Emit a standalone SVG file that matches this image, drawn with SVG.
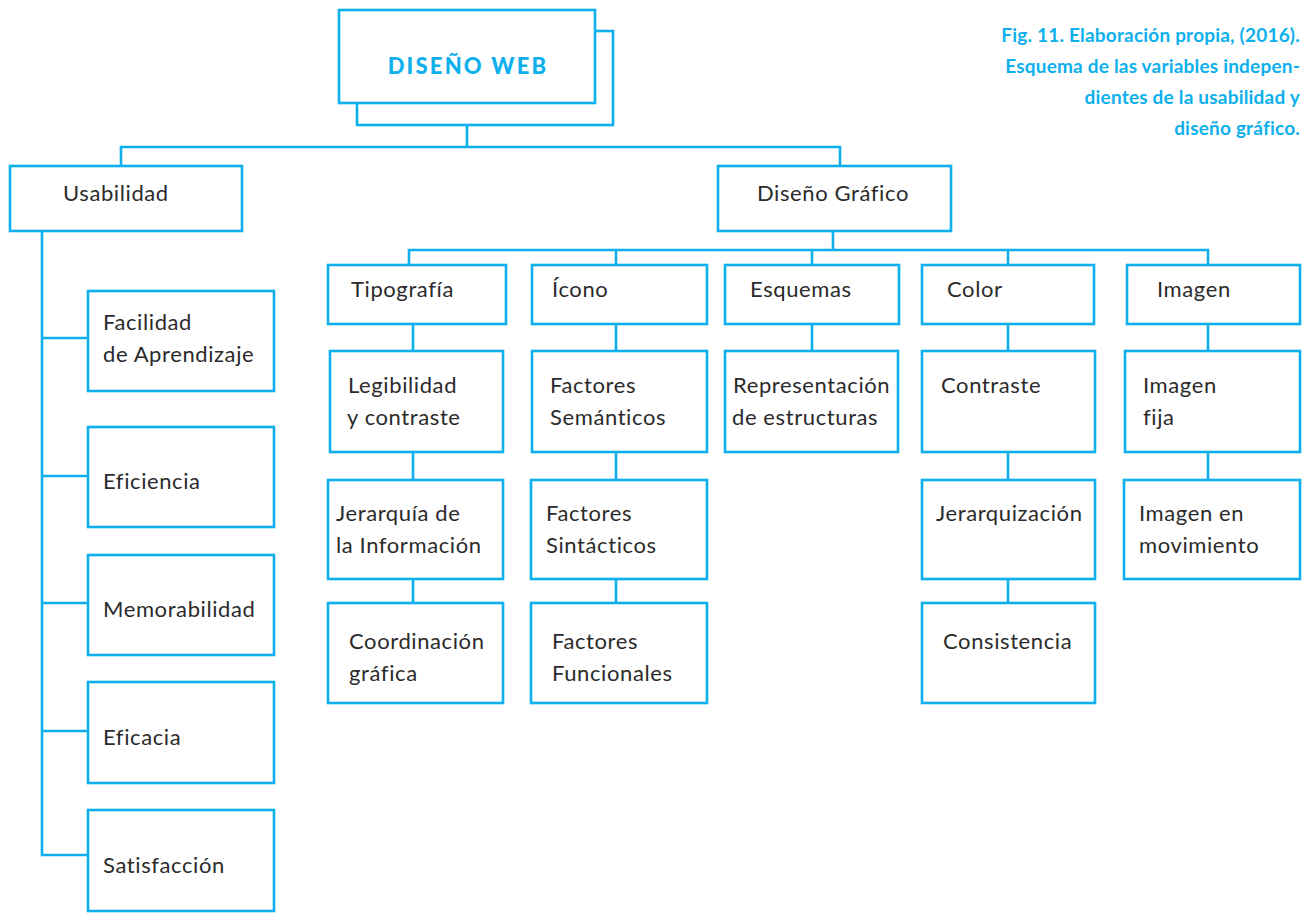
<svg xmlns="http://www.w3.org/2000/svg" width="1303" height="914" viewBox="0 0 1303 914">
  <style>
    .box { fill: #ffffff; stroke: #0db0ec; stroke-width: 2.6; }
    .link { fill: none; stroke: #0db0ec; stroke-width: 2.6; stroke-linecap: square; }
    .lbl { font-family: Lato, "Open Sans", "Liberation Sans", sans-serif; font-size: 22px; letter-spacing: 0.6px; fill: #2b2b2b; }
    .title { font-family: Lato, "Open Sans", "Liberation Sans", sans-serif; font-size: 22px; font-weight: 900; fill: #0db0ec; letter-spacing: 2.2px; }
    .cap { font-family: Lato, "Open Sans", "Liberation Sans", sans-serif; font-size: 19px; font-weight: 700; fill: #0db0ec; text-anchor: end; letter-spacing: 0.2px; }
  </style>

  <!-- connectors -->
  <g id="connectors">
    <path class="link" d="M467 125 V147 M121 147 H840 M121 147 V166 M840 147 V166"/>
    <path class="link" d="M42 231 V855 M42 338 H88 M42 476 H88 M42 603 H88 M42 731 H88 M42 855 H88"/>
    <path class="link" d="M833 231 V250 M409 250 H1208 M409 250 V265 M616 250 V265 M812 250 V265 M1008 250 V265 M1208 250 V265"/>
    <path class="link" d="M413 324 V351 M413 452 V480 M413 579 V603"/>
    <path class="link" d="M616 324 V351 M616 452 V480 M616 579 V603"/>
    <path class="link" d="M812 324 V351"/>
    <path class="link" d="M1008 324 V351 M1008 452 V480 M1008 579 V603"/>
    <path class="link" d="M1208 324 V351 M1208 452 V480"/>
  </g>

  <!-- root -->
  <g id="diseno-web">
    <rect class="box" x="357" y="31" width="256" height="94"/>
    <rect class="box" x="339" y="10" width="256" height="93"/>
    <text class="title" x="468" y="74" text-anchor="middle">DISEÑO WEB</text>
  </g>

  <g id="caption">
    <text class="cap" x="1300" y="42">Fig. 11. Elaboración propia, (2016).</text>
    <text class="cap" x="1300" y="73">Esquema de las variables indepen-</text>
    <text class="cap" x="1300" y="104">dientes de la usabilidad y</text>
    <text class="cap" x="1300" y="135">diseño gráfico.</text>
  </g>

  <!-- usabilidad branch -->
  <g id="usabilidad">
    <rect class="box" x="10" y="166" width="232" height="65"/>
    <text class="lbl" x="63" y="201">Usabilidad</text>
  </g>
  <g id="facilidad">
    <rect class="box" x="88" y="291" width="186" height="100"/>
    <text class="lbl" x="103" y="330">Facilidad</text>
    <text class="lbl" x="103" y="362">de Aprendizaje</text>
  </g>
  <g id="eficiencia">
    <rect class="box" x="88" y="427" width="186" height="100"/>
    <text class="lbl" x="103" y="489">Eficiencia</text>
  </g>
  <g id="memorabilidad">
    <rect class="box" x="88" y="555" width="186" height="100"/>
    <text class="lbl" x="103" y="617">Memorabilidad</text>
  </g>
  <g id="eficacia">
    <rect class="box" x="88" y="682" width="186" height="101"/>
    <text class="lbl" x="103" y="745">Eficacia</text>
  </g>
  <g id="satisfaccion">
    <rect class="box" x="88" y="810" width="186" height="101"/>
    <text class="lbl" x="103" y="873">Satisfacción</text>
  </g>

  <!-- diseño gráfico branch -->
  <g id="diseno-grafico">
    <rect class="box" x="718" y="166" width="233" height="65"/>
    <text class="lbl" x="757" y="201">Diseño Gráfico</text>
  </g>

  <g id="tipografia">
    <rect class="box" x="328" y="265" width="178" height="59"/>
    <text class="lbl" x="351" y="297">Tipografía</text>
  </g>
  <g id="legibilidad">
    <rect class="box" x="330" y="351" width="173" height="101"/>
    <text class="lbl" x="348" y="393">Legibilidad</text>
    <text class="lbl" x="347" y="425">y contraste</text>
  </g>
  <g id="jerarquia">
    <rect class="box" x="328" y="480" width="175" height="99"/>
    <text class="lbl" x="336" y="521">Jerarquía de</text>
    <text class="lbl" x="336" y="553">la Información</text>
  </g>
  <g id="coordinacion">
    <rect class="box" x="328" y="603" width="175" height="100"/>
    <text class="lbl" x="349" y="649">Coordinación</text>
    <text class="lbl" x="349" y="681">gráfica</text>
  </g>

  <g id="icono">
    <rect class="box" x="532" y="265" width="175" height="59"/>
    <text class="lbl" x="552" y="297">Ícono</text>
  </g>
  <g id="semanticos">
    <rect class="box" x="532" y="351" width="175" height="101"/>
    <text class="lbl" x="550" y="393">Factores</text>
    <text class="lbl" x="550" y="425">Semánticos</text>
  </g>
  <g id="sintacticos">
    <rect class="box" x="531" y="480" width="176" height="99"/>
    <text class="lbl" x="546" y="521">Factores</text>
    <text class="lbl" x="546" y="553">Sintácticos</text>
  </g>
  <g id="funcionales">
    <rect class="box" x="531" y="603" width="176" height="100"/>
    <text class="lbl" x="552" y="649">Factores</text>
    <text class="lbl" x="552" y="681">Funcionales</text>
  </g>

  <g id="esquemas">
    <rect class="box" x="725" y="265" width="174" height="59"/>
    <text class="lbl" x="750" y="297">Esquemas</text>
  </g>
  <g id="representacion">
    <rect class="box" x="725" y="351" width="173" height="101"/>
    <text class="lbl" x="733" y="393">Representación</text>
    <text class="lbl" x="732" y="425">de estructuras</text>
  </g>

  <g id="color">
    <rect class="box" x="922" y="265" width="172" height="59"/>
    <text class="lbl" x="947" y="297">Color</text>
  </g>
  <g id="contraste">
    <rect class="box" x="922" y="351" width="173" height="101"/>
    <text class="lbl" x="941" y="393">Contraste</text>
  </g>
  <g id="jerarquizacion">
    <rect class="box" x="922" y="480" width="173" height="99"/>
    <text class="lbl" x="936" y="521">Jerarquización</text>
  </g>
  <g id="consistencia">
    <rect class="box" x="922" y="603" width="173" height="100"/>
    <text class="lbl" x="943" y="649">Consistencia</text>
  </g>

  <g id="imagen">
    <rect class="box" x="1127" y="265" width="173" height="59"/>
    <text class="lbl" x="1157" y="297">Imagen</text>
  </g>
  <g id="imagen-fija">
    <rect class="box" x="1125" y="351" width="175" height="101"/>
    <text class="lbl" x="1143" y="393">Imagen</text>
    <text class="lbl" x="1143" y="425">fija</text>
  </g>
  <g id="imagen-movimiento">
    <rect class="box" x="1124" y="480" width="176" height="99"/>
    <text class="lbl" x="1139" y="521">Imagen en</text>
    <text class="lbl" x="1139" y="553">movimiento</text>
  </g>
</svg>
